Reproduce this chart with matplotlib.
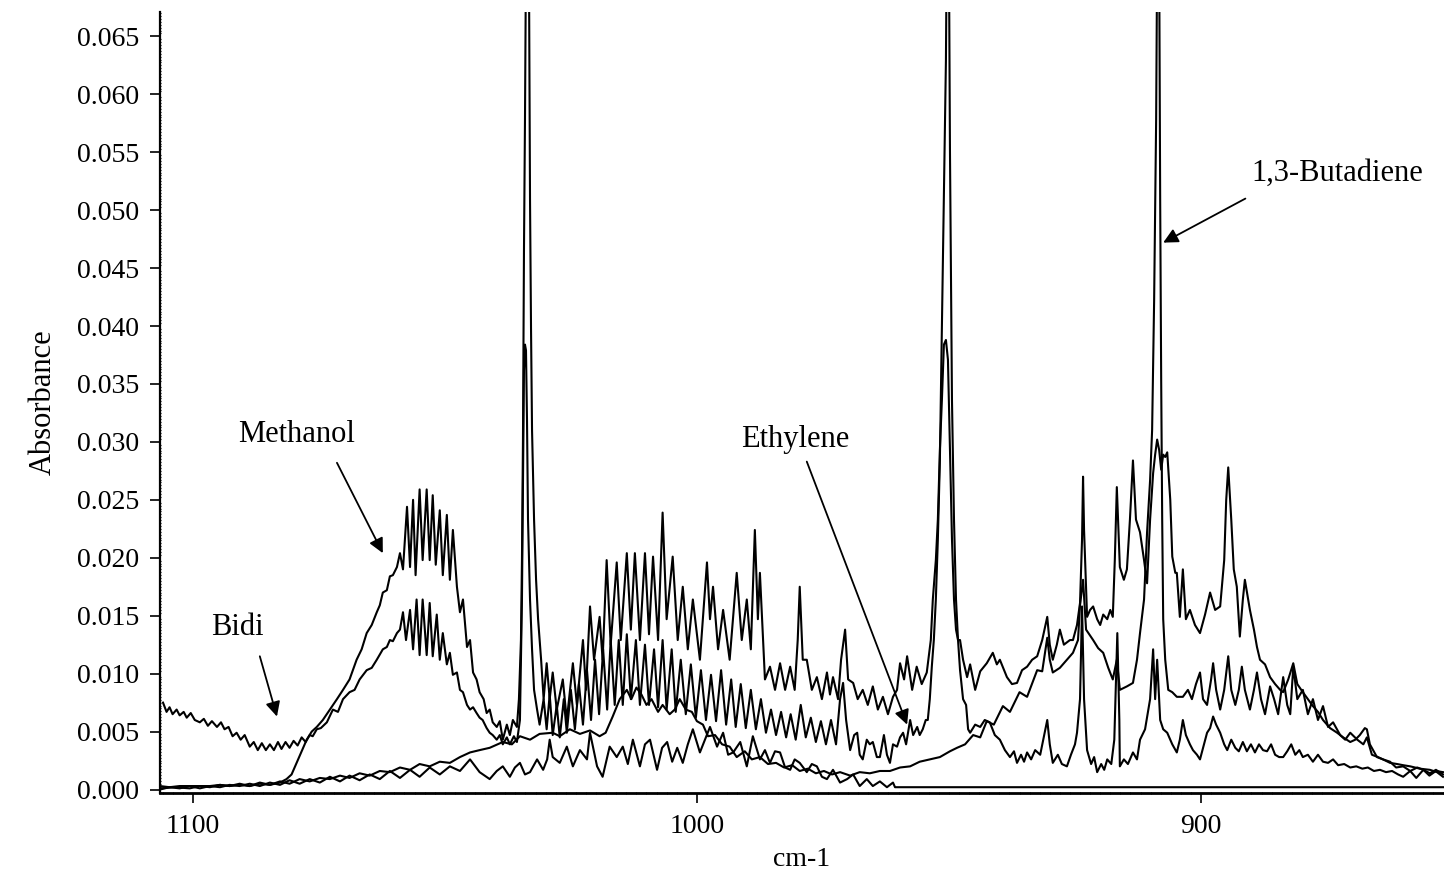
import numpy as np
import matplotlib.pyplot as plt
from matplotlib.ticker import MultipleLocator, FormatStrFormatter

plt.rcParams['font.family'] = ['Liberation Serif', 'DejaVu Serif']

# spectra: (wavenumber cm-1, absorbance x 1e-3)
spec_top = [
    (1106.5, 0.3), (1104.6, 0.2), (1102.6, 0.3), (1100.6, 0.3), (1098.6, 0.3), (1096.6, 0.3),
    (1094.6, 0.4), (1092.7, 0.3), (1090.7, 0.4), (1088.7, 0.3), (1086.7, 0.5), (1084.7, 0.4),
    (1082.7, 0.6), (1081.4, 0.9), (1080.4, 1.3), (1079.4, 2.3), (1078.4, 3.3), (1077.4, 4.3),
    (1076.4, 5.0), (1075.4, 5.4), (1074.2, 6.0), (1072.8, 6.9), (1071.4, 7.8), (1070.2, 8.6),
    (1068.9, 9.5), (1067.5, 11.2), (1066.5, 12.1), (1065.5, 13.5), (1064.5, 14.2), (1063.5, 15.3),
    (1062.9, 15.9), (1062.3, 17.0), (1061.5, 17.2), (1060.9, 18.4), (1060.3, 18.5), (1059.5, 19.2),
    (1058.9, 20.4), (1058.3, 19.0), (1057.5, 24.4), (1056.9, 19.2), (1056.3, 25.0), (1055.8, 18.5),
    (1055.0, 25.9), (1054.4, 19.8), (1053.6, 25.9), (1053.0, 19.8), (1052.4, 25.4), (1051.8, 19.4),
    (1051.0, 24.1), (1050.4, 18.5), (1049.6, 23.7), (1049.0, 18.1), (1048.4, 22.4), (1047.6, 17.5),
    (1047.0, 15.3), (1046.4, 16.4), (1045.6, 12.3), (1045.0, 12.9), (1044.4, 10.1), (1043.7, 9.5),
    (1043.1, 8.4), (1042.3, 7.8), (1041.7, 6.6), (1041.1, 6.9), (1040.5, 5.8), (1039.7, 5.4),
    (1039.1, 5.9), (1038.5, 4.3), (1037.7, 5.6), (1037.1, 4.7), (1036.5, 6.0), (1035.7, 5.4),
    (1035.3, 7.8), (1034.9, 12.9), (1034.7, 19.8), (1034.5, 30.2), (1034.3, 46.5), (1034.1, 57.8),
    (1033.9, 72.0), (1033.5, 78.0), (1033.3, 70.0), (1033.1, 50.9), (1032.9, 39.7), (1032.7, 31.0),
    (1032.3, 23.3), (1031.9, 18.1), (1031.5, 14.7), (1030.9, 11.2), (1030.4, 7.8), (1029.8, 10.9),
    (1029.2, 7.8), (1028.6, 10.1), (1027.8, 6.9), (1026.6, 9.5), (1025.8, 6.0), (1024.6, 10.9),
    (1023.8, 7.3), (1022.6, 12.9), (1022.0, 8.6), (1021.2, 15.8), (1020.4, 11.2), (1019.3, 14.9),
    (1018.7, 11.2), (1017.9, 19.8), (1017.1, 12.5), (1015.9, 19.6), (1015.1, 12.9), (1013.9, 20.4),
    (1013.1, 13.8), (1012.3, 20.4), (1011.3, 12.9), (1010.3, 20.4), (1009.5, 13.4), (1008.7, 20.1),
    (1007.7, 12.9), (1006.8, 23.9), (1006.0, 14.7), (1004.8, 20.1), (1003.8, 12.9), (1002.8, 17.5),
    (1001.8, 12.1), (1000.8, 16.4), (999.4, 11.2), (998.0, 19.6), (997.4, 14.7), (996.8, 17.5),
    (995.8, 12.1), (994.8, 15.5), (993.5, 11.2), (992.1, 18.7), (991.1, 12.9), (990.1, 16.4),
    (989.3, 12.1), (988.5, 22.4), (987.9, 14.7), (987.5, 18.7), (986.5, 9.5), (985.5, 10.6),
    (984.5, 8.6), (983.5, 10.9), (982.5, 8.6), (981.5, 10.6), (980.6, 8.6), (980.0, 12.9),
    (979.6, 17.5), (979.0, 11.2), (978.2, 11.2), (977.2, 8.6), (976.2, 9.7), (975.2, 7.8),
    (974.2, 10.1), (973.6, 8.2), (973.0, 9.7), (972.0, 7.8), (971.4, 11.2), (970.6, 13.8),
    (970.0, 9.5), (969.0, 9.2), (968.1, 7.8), (967.1, 8.6), (966.1, 7.3), (965.1, 8.9),
    (964.1, 6.9), (963.1, 8.0), (962.1, 6.5), (961.1, 8.0), (960.3, 8.6), (959.7, 10.9),
    (958.9, 9.5), (958.3, 11.5), (957.3, 8.6), (956.4, 10.6), (955.4, 9.1), (954.4, 10.1),
    (953.6, 12.9), (953.2, 16.4), (952.6, 19.8), (952.2, 23.3), (951.8, 29.3), (951.4, 33.6),
    (951.0, 38.4), (950.6, 38.8), (950.2, 37.1), (949.8, 29.3), (949.4, 21.6), (949.0, 16.4),
    (948.6, 13.8), (948.2, 12.9), (947.8, 12.9), (947.2, 11.2), (946.4, 9.7), (945.8, 10.8),
    (944.8, 8.6), (943.8, 10.2), (942.5, 10.9), (941.3, 11.8), (940.5, 10.8), (939.9, 11.2),
    (938.5, 9.7), (937.5, 9.1), (936.5, 9.2), (935.5, 10.3), (934.5, 10.6), (933.5, 11.2),
    (932.5, 11.5), (931.5, 12.9), (930.5, 14.9), (930.0, 12.5), (929.4, 11.2), (928.6, 12.5),
    (928.0, 13.8), (927.2, 12.5), (926.6, 12.7), (926.0, 12.9), (925.4, 12.9), (924.6, 14.2),
    (924.0, 16.1), (923.6, 21.6), (923.4, 27.0), (923.2, 22.4), (922.6, 14.9), (922.0, 15.5),
    (921.4, 15.8), (920.6, 14.7), (920.0, 14.2), (919.4, 15.1), (918.6, 14.7), (918.0, 15.5),
    (917.5, 14.9), (917.1, 19.8), (916.7, 26.1), (916.3, 21.6), (916.1, 19.2), (915.3, 18.1),
    (914.7, 19.0), (914.1, 23.3), (913.5, 28.4), (912.9, 23.3), (912.1, 22.2), (911.3, 19.8),
    (910.7, 17.8), (910.1, 23.3), (909.5, 27.3), (909.1, 28.9), (908.7, 30.2), (908.3, 29.3),
    (907.9, 27.6), (907.5, 28.9), (907.1, 28.7), (906.7, 29.1), (906.1, 25.0), (905.7, 20.1),
    (905.1, 18.7), (904.8, 18.7), (904.2, 14.9), (903.6, 19.0), (903.0, 14.7), (902.2, 15.5),
    (901.2, 14.2), (900.2, 13.5), (899.2, 15.1), (898.2, 17.0), (897.2, 15.5), (896.2, 15.8),
    (895.4, 19.8), (895.0, 25.0), (894.6, 27.8), (894.0, 23.3), (893.5, 19.0), (892.9, 17.5),
    (892.3, 13.2), (891.7, 16.4), (891.3, 18.1), (890.3, 15.5), (889.5, 13.8), (888.9, 12.3),
    (888.3, 11.2), (887.3, 10.8), (886.3, 9.7), (885.3, 9.1), (884.3, 8.6), (883.7, 8.4),
    (882.7, 9.5), (881.7, 10.9), (880.9, 9.1), (879.8, 8.4), (878.8, 7.8), (877.8, 7.2),
    (876.8, 6.7), (875.8, 6.0), (874.4, 5.3), (873.0, 4.9), (871.8, 4.5), (870.4, 4.1),
    (869.4, 4.3), (868.5, 4.7), (867.5, 5.3), (867.1, 5.2), (866.5, 3.9), (865.1, 2.8),
    (863.9, 2.6), (862.5, 2.3), (861.1, 2.2), (859.9, 2.1), (858.5, 2.0), (856.6, 1.8),
    (854.6, 1.7), (853.2, 1.5), (852.0, 1.1),
]

spec_bidi = [
    (1105.9, 7.5), (1105.2, 6.7), (1104.6, 7.1), (1104.0, 6.5), (1103.2, 6.9), (1102.6, 6.4),
    (1101.8, 6.7), (1101.2, 6.2), (1100.4, 6.6), (1099.6, 6.0), (1098.6, 5.8), (1097.8, 6.1),
    (1097.0, 5.5), (1096.2, 5.9), (1095.2, 5.4), (1094.4, 5.8), (1093.7, 5.2), (1092.9, 5.4),
    (1092.1, 4.6), (1091.3, 4.9), (1090.5, 4.3), (1089.7, 4.7), (1088.7, 3.7), (1087.9, 4.1),
    (1087.1, 3.4), (1086.3, 4.0), (1085.5, 3.4), (1084.7, 3.9), (1083.9, 3.4), (1083.1, 4.1),
    (1082.4, 3.5), (1081.6, 4.1), (1080.8, 3.6), (1080.0, 4.2), (1079.2, 3.8), (1078.4, 4.5),
    (1077.6, 4.1), (1076.8, 4.7), (1076.2, 4.6), (1075.4, 5.2), (1074.6, 5.3), (1073.4, 5.8),
    (1072.2, 6.9), (1071.2, 6.7), (1070.2, 7.8), (1068.9, 8.4), (1067.9, 8.6), (1066.9, 9.5),
    (1065.5, 10.3), (1064.5, 10.5), (1063.5, 11.2), (1062.3, 12.1), (1061.5, 12.3), (1060.9, 12.9),
    (1060.3, 12.8), (1059.5, 13.5), (1058.9, 13.8), (1058.3, 15.3), (1057.7, 12.9), (1056.9, 15.5),
    (1056.3, 12.1), (1055.6, 16.4), (1055.0, 11.6), (1054.4, 16.4), (1053.6, 11.6), (1053.0, 16.1),
    (1052.4, 11.5), (1051.6, 15.1), (1051.0, 11.2), (1050.4, 13.5), (1049.6, 10.8), (1049.0, 11.8),
    (1048.4, 9.9), (1047.6, 10.1), (1047.0, 8.6), (1046.4, 8.4), (1045.6, 7.3), (1045.0, 6.9),
    (1044.4, 7.1), (1043.7, 6.6), (1043.1, 6.2), (1042.5, 6.0), (1041.7, 5.3), (1041.1, 4.9),
    (1040.5, 4.7), (1039.7, 4.3), (1039.1, 4.7), (1038.5, 3.9), (1037.7, 4.5), (1037.1, 3.9),
    (1036.3, 4.6), (1035.7, 4.1), (1035.1, 6.0), (1034.7, 16.4), (1034.5, 26.7), (1034.3, 36.2),
    (1034.1, 38.4), (1033.9, 37.9), (1033.7, 31.9), (1033.5, 23.3), (1033.1, 16.4), (1032.7, 12.1),
    (1032.3, 8.6), (1031.7, 6.9), (1031.2, 5.6), (1030.4, 7.8), (1029.8, 5.2), (1029.2, 8.2),
    (1028.6, 4.7), (1027.8, 7.3), (1027.2, 4.5), (1026.4, 7.8), (1025.8, 4.9), (1025.0, 8.6),
    (1024.2, 5.2), (1023.4, 9.1), (1022.6, 5.6), (1021.8, 10.3), (1021.0, 6.0), (1020.2, 11.2),
    (1019.4, 6.5), (1018.6, 12.1), (1017.8, 6.9), (1017.1, 12.9), (1016.3, 7.3), (1015.5, 12.9),
    (1014.7, 7.3), (1013.9, 13.4), (1013.1, 7.8), (1012.1, 12.9), (1011.3, 7.3), (1010.3, 12.5),
    (1009.5, 7.3), (1008.5, 12.1), (1007.7, 7.1), (1006.8, 12.9), (1006.0, 6.9), (1005.0, 12.1),
    (1004.2, 6.7), (1003.2, 11.2), (1002.2, 6.5), (1001.2, 10.8), (1000.2, 6.2), (999.2, 10.3),
    (998.2, 6.0), (997.2, 9.9), (996.2, 5.9), (995.2, 10.3), (994.2, 5.6), (993.2, 9.5),
    (992.3, 5.4), (991.3, 9.1), (990.3, 5.3), (989.3, 8.6), (988.3, 5.2), (987.3, 7.8),
    (986.3, 4.9), (985.3, 6.9), (984.3, 4.7), (983.3, 6.7), (982.3, 4.5), (981.4, 6.5),
    (980.4, 4.3), (979.4, 7.3), (978.4, 4.5), (977.4, 6.2), (976.4, 4.1), (975.4, 5.9),
    (974.4, 3.9), (973.4, 6.0), (972.4, 3.9), (971.6, 7.8), (971.0, 9.2), (970.4, 6.0),
    (969.6, 3.4), (968.8, 4.7), (968.2, 4.9), (967.7, 3.0), (967.1, 2.6), (966.3, 4.3),
    (965.7, 3.9), (965.1, 4.1), (964.3, 2.8), (963.7, 2.8), (962.9, 4.7), (962.3, 3.0),
    (961.7, 2.3), (961.1, 3.9), (960.3, 3.7), (959.7, 4.5), (959.1, 4.9), (958.5, 3.9),
    (957.7, 6.0), (957.1, 4.7), (956.3, 5.4), (955.8, 4.7), (955.2, 5.2), (954.6, 6.0),
    (954.2, 6.0), (953.8, 7.8), (953.4, 10.6), (953.0, 12.9), (952.6, 16.4), (952.2, 21.6),
    (951.8, 28.4), (951.4, 39.7), (951.0, 50.9), (950.6, 62.9), (950.4, 75.0), (950.2, 78.0),
    (950.0, 72.0), (949.8, 55.2), (949.6, 44.0), (949.4, 33.6), (949.0, 23.3), (948.6, 16.4),
    (948.2, 12.9), (947.8, 10.3), (947.2, 7.8), (946.6, 7.3), (946.2, 5.2), (945.8, 4.9),
    (944.8, 5.6), (943.8, 5.4), (942.9, 6.0), (941.9, 5.8), (940.9, 4.7), (939.9, 4.3),
    (938.9, 3.4), (937.9, 2.8), (937.1, 3.3), (936.5, 2.3), (935.7, 3.0), (935.1, 2.4),
    (934.5, 3.2), (933.7, 2.6), (932.9, 3.4), (931.9, 3.0), (931.1, 4.7), (930.5, 6.0),
    (930.0, 3.9), (929.4, 2.3), (928.4, 3.0), (927.6, 2.2), (926.6, 2.0), (925.8, 3.0),
    (925.0, 3.9), (924.6, 4.9), (924.0, 7.8), (923.6, 15.8), (923.2, 7.8), (922.6, 3.4),
    (921.8, 2.2), (921.2, 2.8), (920.6, 1.5), (919.8, 2.2), (919.2, 1.7), (918.6, 2.6),
    (917.8, 2.2), (917.2, 4.3), (916.6, 13.5), (916.2, 6.0), (916.1, 2.0), (915.3, 2.6),
    (914.5, 2.2), (913.5, 3.2), (912.7, 2.6), (912.1, 4.3), (911.1, 5.2), (910.1, 7.8),
    (909.5, 12.1), (909.1, 7.8), (908.7, 11.2), (908.1, 6.0), (907.5, 5.2), (906.7, 4.9),
    (905.7, 3.9), (904.8, 3.2), (904.2, 4.3), (903.6, 6.0), (903.0, 4.7), (902.2, 3.9),
    (901.6, 3.4), (900.8, 3.0), (900.2, 2.6), (899.4, 3.9), (898.8, 4.9), (898.2, 5.3),
    (897.6, 6.3), (897.0, 5.6), (896.2, 4.9), (895.4, 3.9), (894.8, 3.4), (894.0, 4.3),
    (893.2, 3.6), (892.5, 3.3), (891.7, 4.1), (890.9, 3.3), (890.1, 3.9), (889.3, 3.2),
    (888.5, 3.9), (887.7, 3.4), (886.9, 3.3), (886.1, 3.9), (885.3, 3.0), (884.5, 2.8),
    (883.7, 2.8), (882.9, 3.3), (882.1, 3.9), (881.3, 3.0), (880.5, 3.4), (879.8, 2.8),
    (878.8, 3.0), (877.8, 2.4), (876.8, 3.0), (875.8, 2.4), (874.8, 2.3), (873.8, 2.6),
    (872.8, 2.1), (871.6, 2.2), (870.4, 1.9), (869.2, 2.0), (868.0, 1.8), (866.9, 1.9),
    (865.7, 1.6), (864.5, 1.7), (863.3, 1.5), (862.1, 1.6), (860.9, 1.3), (859.9, 1.1),
    (858.5, 1.6), (857.3, 1.0), (855.9, 1.7), (854.7, 1.2), (853.4, 1.6), (852.0, 1.5),
]

spec_smooth = [
    (1106.5, 0.1), (1103.6, 0.2), (1100.6, 0.1), (1098.6, 0.3), (1096.6, 0.2), (1094.6, 0.4),
    (1092.7, 0.3), (1090.7, 0.5), (1088.7, 0.3), (1086.7, 0.6), (1084.7, 0.4), (1082.7, 0.7),
    (1080.8, 0.5), (1078.8, 0.9), (1076.8, 0.7), (1074.8, 1.0), (1072.8, 0.9), (1070.8, 1.2),
    (1068.9, 1.0), (1066.9, 1.4), (1064.9, 1.2), (1062.9, 1.6), (1060.9, 1.5), (1058.9, 1.9),
    (1056.9, 1.7), (1055.0, 2.2), (1053.0, 2.0), (1051.0, 2.4), (1049.0, 2.3), (1047.0, 2.8),
    (1045.0, 3.2), (1043.1, 3.4), (1041.1, 3.6), (1038.5, 4.1), (1036.7, 3.9), (1035.1, 4.6),
    (1033.1, 4.3), (1031.2, 4.8), (1028.6, 4.9), (1027.2, 4.6), (1025.2, 5.2), (1023.2, 4.8),
    (1021.2, 5.1), (1019.3, 4.6), (1018.1, 4.9), (1016.7, 6.3), (1015.3, 7.8), (1013.9, 8.6),
    (1013.0, 7.8), (1012.0, 8.8), (1011.0, 8.2), (1010.0, 7.3), (1009.0, 7.8), (1007.7, 6.7),
    (1006.8, 7.3), (1005.4, 6.5), (1004.4, 6.9), (1003.4, 7.8), (1002.2, 6.9), (1001.0, 6.7),
    (1000.0, 5.9), (998.8, 5.6), (997.8, 4.6), (996.4, 4.7), (995.0, 3.9), (993.5, 3.7),
    (992.1, 2.8), (990.5, 3.3), (989.1, 2.6), (987.5, 2.8), (985.9, 2.2), (984.3, 2.3),
    (982.7, 1.9), (981.1, 2.1), (979.6, 1.6), (978.0, 1.8), (976.4, 1.4), (974.8, 1.6),
    (973.2, 1.3), (971.6, 1.5), (969.6, 1.2), (967.7, 1.5), (965.7, 1.4), (963.7, 1.6),
    (961.7, 1.6), (959.7, 1.9), (957.7, 2.0), (955.8, 2.4), (953.8, 2.6), (951.8, 2.8),
    (949.8, 3.3), (948.4, 3.6), (946.8, 3.9), (945.2, 4.7), (943.8, 4.5), (942.5, 5.9),
    (941.1, 5.6), (939.3, 7.2), (937.9, 6.7), (936.0, 8.4), (934.5, 8.0), (932.5, 10.3),
    (931.5, 10.2), (930.5, 13.1), (930.0, 11.2), (929.4, 10.1), (928.0, 10.5), (926.6, 11.2),
    (925.4, 11.8), (924.4, 12.9), (924.0, 15.9), (923.4, 18.1), (922.8, 13.8), (921.4, 12.9),
    (920.4, 12.2), (919.4, 11.8), (918.4, 10.5), (917.5, 9.5), (916.7, 11.2), (916.1, 8.6),
    (914.7, 8.9), (913.5, 9.2), (912.7, 11.2), (912.1, 13.5), (911.3, 16.4), (910.7, 22.2),
    (910.1, 26.7), (909.7, 31.0), (909.3, 42.2), (908.9, 57.8), (908.7, 72.0), (908.5, 78.0),
    (908.3, 72.0), (908.1, 50.9), (907.9, 35.3), (907.7, 23.3), (907.5, 14.7), (907.1, 11.2),
    (906.5, 8.6), (905.7, 8.4), (904.8, 8.0), (903.6, 8.0), (902.6, 8.6), (901.8, 7.8),
    (901.0, 9.1), (900.2, 10.1), (899.6, 7.8), (898.8, 7.3), (898.0, 9.5), (897.6, 10.9),
    (897.0, 8.6), (896.2, 6.9), (895.4, 8.6), (894.6, 11.5), (894.0, 8.6), (893.2, 7.3),
    (892.5, 8.6), (891.9, 10.6), (891.3, 8.6), (890.3, 6.9), (889.5, 8.6), (888.9, 10.1),
    (888.1, 7.8), (887.3, 6.5), (886.3, 8.9), (885.5, 7.8), (884.7, 6.5), (883.7, 9.7),
    (882.9, 7.3), (882.3, 6.5), (881.7, 10.6), (880.9, 7.8), (879.8, 8.6), (878.8, 6.5),
    (877.8, 7.8), (876.8, 6.0), (875.8, 7.2), (874.8, 5.4), (873.8, 5.8), (872.4, 4.7),
    (871.4, 4.3), (870.4, 4.9), (869.0, 4.3), (867.8, 3.9), (867.1, 4.5), (866.1, 3.0),
    (864.9, 2.8), (863.9, 2.6), (862.5, 2.4), (861.3, 1.9), (859.9, 2.0), (858.5, 1.6),
    (857.1, 1.9), (855.9, 1.7), (854.6, 1.4), (853.4, 1.7), (852.0, 1.3),
]

spec_low = [
    (1106.5, 0.0), (1104.6, 0.2), (1102.6, 0.1), (1100.6, 0.3), (1098.6, 0.1), (1096.6, 0.3),
    (1094.6, 0.2), (1092.7, 0.4), (1090.7, 0.3), (1088.7, 0.5), (1086.7, 0.3), (1084.7, 0.6),
    (1082.7, 0.4), (1080.8, 0.8), (1078.8, 0.5), (1076.8, 0.9), (1074.8, 0.6), (1072.8, 1.1),
    (1070.8, 0.7), (1068.9, 1.2), (1066.9, 0.8), (1064.9, 1.3), (1062.9, 0.9), (1060.9, 1.6),
    (1058.9, 1.0), (1056.9, 1.7), (1055.0, 1.1), (1053.0, 1.9), (1051.0, 1.3), (1049.0, 2.0),
    (1047.0, 1.6), (1045.0, 2.6), (1043.1, 1.5), (1041.1, 0.9), (1039.7, 1.6), (1038.5, 2.0),
    (1037.1, 1.1), (1036.1, 1.9), (1035.1, 2.3), (1034.1, 1.3), (1033.1, 1.5), (1031.7, 2.6),
    (1030.5, 1.7), (1029.7, 2.6), (1029.2, 4.3), (1028.6, 2.8), (1027.2, 2.3), (1025.8, 3.7),
    (1024.6, 2.0), (1023.2, 3.4), (1021.8, 2.6), (1021.2, 4.9), (1019.8, 2.0), (1018.7, 1.1),
    (1017.3, 3.7), (1015.9, 2.8), (1014.7, 3.7), (1013.7, 2.2), (1012.7, 4.3), (1011.3, 2.0),
    (1010.3, 3.9), (1009.3, 4.3), (1007.9, 1.7), (1006.9, 3.6), (1005.9, 4.1), (1004.9, 2.4),
    (1003.9, 3.6), (1002.8, 2.3), (1001.8, 3.9), (1000.8, 5.2), (999.4, 3.2), (998.4, 4.3),
    (997.4, 5.4), (996.0, 3.7), (994.8, 4.9), (993.8, 3.0), (992.8, 3.2), (991.4, 4.1),
    (990.1, 2.0), (988.9, 4.6), (987.5, 2.6), (986.5, 3.4), (985.5, 2.3), (984.5, 3.3),
    (983.5, 3.2), (982.5, 1.9), (981.5, 1.7), (980.6, 2.6), (979.6, 2.3), (978.2, 1.5),
    (977.2, 2.2), (976.2, 2.0), (975.2, 1.1), (974.2, 0.9), (973.0, 1.7), (971.6, 0.6),
    (970.2, 0.9), (969.0, 1.3), (967.7, 0.3), (966.3, 0.9), (965.1, 0.3), (963.7, 0.7),
    (962.3, 0.2), (961.1, 0.6), (960.7, 0.2), (852.0, 0.2),
]

xtick_values = [1100, 1000, 900]

labels = ["Methanol", "Bidi", "Ethylene", "1,3-Butadiene"]
label_xy = [(1079.4, 0.0306), (1091.1, 0.0140), (980.6, 0.0302), (873.0, 0.0532)]
arrow_tails = [(1071.4, 0.0282), (1086.7, 0.0115), (978.2, 0.0283), (891.2, 0.0510)]
arrow_tips = [(1062.3, 0.0204), (1083.3, 0.0063), (958.3, 0.0056), (907.5, 0.0472)]

fig = plt.figure(figsize=(14.44, 8.72), dpi=100)
ax = fig.add_axes([0.1108, 0.0906, 0.8892, 0.8956])

for trace in [spec_low, spec_smooth, spec_bidi, spec_top]:
    wn, mabs = zip(*trace)
    ax.plot(wn, np.array(mabs) / 1000.0, color='black', lw=1.5)

for text, xy, tail, tip in zip(labels, label_xy, arrow_tails, arrow_tips):
    ax.text(xy[0], xy[1], text, fontsize=22, ha='center', va='center')
    ax.annotate('', xy=tip, xytext=tail,
                arrowprops=dict(arrowstyle='-|>', color='black', lw=1.3,
                                mutation_scale=22, shrinkA=0, shrinkB=0))

ax.set_xlim(1106.5, 851.8)
ax.set_ylim(-0.0003, 0.0671)
ax.spines['top'].set_visible(False)
ax.spines['right'].set_visible(False)
ax.spines['left'].set_linewidth(1.6)
ax.spines['bottom'].set_linewidth(2.0)

ax.set_xticks(xtick_values)
ax.xaxis.set_minor_locator(MultipleLocator(2))
ax.yaxis.set_major_locator(MultipleLocator(0.005))
ax.yaxis.set_minor_locator(MultipleLocator(0.00025))
ax.yaxis.set_major_formatter(FormatStrFormatter('%.3f'))
ax.tick_params(axis='both', which='major', labelsize=20, length=7, width=1.2,
               direction='out', pad=8)
ax.tick_params(axis='both', which='minor', length=2, width=0.8, direction='inout')

ax.set_xlabel('cm-1', fontsize=20, labelpad=6)
ax.set_ylabel('Absorbance', fontsize=22, labelpad=14)

fig.savefig('out.png', dpi=100)
